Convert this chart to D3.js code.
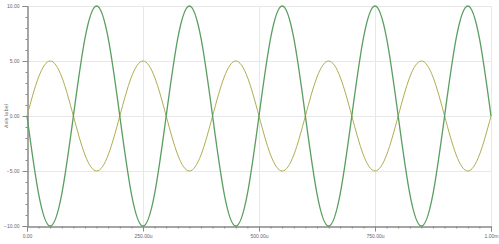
<!DOCTYPE html>
<html>
<head>
<meta charset="utf-8">
<script src="https://cdn.jsdelivr.net/npm/d3@7"></script>
<style>
  body { margin: 0; background: #fff; }
  svg { display: block; font-family: "DejaVu Sans", sans-serif; }
</style>
</head>
<body>
<svg width="499" height="244"></svg>
<script>
// time in microseconds, sampled every 25u
var times = [0,25,50,75,100,125,150,175,200,225,250,275,300,325,350,375,400,425,450,475,500,
  525,550,575,600,625,650,675,700,725,750,775,800,825,850,875,900,925,950,975,1000];

// yellow trace (amplitude 5)
var yellowVals = [0,3.54,5,3.54,0,-3.54,-5,-3.54,0,3.54,5,3.54,0,-3.54,-5,-3.54,0,3.54,5,3.54,0,
  -3.54,-5,-3.54,0,3.54,5,3.54,0,-3.54,-5,-3.54,0,3.54,5,3.54,0,-3.54,-5,-3.54,0];

// green trace (amplitude 10)
var greenVals = [0,-7.07,-10,-7.07,0,7.07,10,7.07,0,-7.07,-10,-7.07,0,7.07,10,7.07,0,-7.07,-10,-7.07,0,
  7.07,10,7.07,0,-7.07,-10,-7.07,0,7.07,10,7.07,0,-7.07,-10,-7.07,0,7.07,10,7.07,0];

var yTicks = [-10, -5, 0, 5, 10];
var xTicks = [0, 250, 500, 750, 1000];
var xTickLabels = ["0.00", "250.00u", "500.00u", "750.00u", "1.00m"];

var svg = d3.select("svg"),
    width = +svg.attr("width"),
    height = +svg.attr("height");

// plot box
var plotL = 27, plotR = 491, plotT = 6, plotB = 226;

var x = d3.scaleLinear().domain([0, 1000]).range([plotL, plotR]);
var y = d3.scaleLinear().domain([-10, 10]).range([plotB, plotT]);

// grid
svg.append("g")
  .selectAll("line")
  .data(yTicks.filter(function(d){ return d != -10; }))
  .enter().append("line")
    .attr("x1", plotL).attr("x2", plotR)
    .attr("y1", function(d){ return y(d) + 0.5; })
    .attr("y2", function(d){ return y(d) + 0.5; })
    .style("stroke", "#e8e8e8")
    .style("stroke-width", 1);

svg.append("g")
  .selectAll("line")
  .data(xTicks.filter(function(d){ return d != 0; }))
  .enter().append("line")
    .attr("x1", function(d){ return x(d) + 0.5; })
    .attr("x2", function(d){ return x(d) + 0.5; })
    .attr("y1", plotT).attr("y2", plotB)
    .style("stroke", "#e8e8e8")
    .style("stroke-width", 1);

// left axis
var yAxis = svg.append("g")
  .attr("transform", "translate(" + (plotL + 0.5) + ",0)")
  .call(d3.axisLeft(y).tickValues(d3.range(-10, 10.01, 1)).tickSize(2).tickFormat(""));
yAxis.append("g")
  .call(d3.axisLeft(y).tickValues(yTicks).tickSize(5).tickFormat(d3.format(".2f")));
yAxis.selectAll("path").style("stroke", "#888");
yAxis.selectAll("line").style("stroke", "#888");
yAxis.selectAll("text").style("font-size", "5px").style("fill", "#666");

// bottom axis
var xAxis = svg.append("g")
  .attr("transform", "translate(0," + (plotB + 0.5) + ")")
  .call(d3.axisBottom(x).tickValues(d3.range(0, 1000.1, 25)).tickSize(2).tickFormat(""));
xAxis.append("g")
  .call(d3.axisBottom(x).tickValues(xTicks).tickSize(5)
    .tickFormat(function(d, i){ return xTickLabels[i]; }));
xAxis.selectAll("path").style("stroke", "#888");
xAxis.selectAll("line").style("stroke", "#888");
xAxis.selectAll("text").style("font-size", "5px").style("fill", "#666");

// axis title
svg.append("text")
  .attr("transform", "translate(8," + y(0) + ") rotate(-90)")
  .attr("text-anchor", "middle")
  .style("font-size", "5px")
  .style("fill", "#666")
  .text("Axis label");

var line = d3.line()
  .x(function(d){ return x(d[0]); })
  .y(function(d){ return y(d[1]); })
  .curve(d3.curveNatural);

svg.append("path")
  .datum(times.map(function(t, i){ return [t, yellowVals[i]]; }))
  .attr("d", line)
  .style("fill", "none")
  .style("stroke", "#b0ad50")
  .style("stroke-width", 1);

svg.append("path")
  .datum(times.map(function(t, i){ return [t, greenVals[i]]; }))
  .attr("d", line)
  .style("fill", "none")
  .style("stroke", "#5a9f60")
  .style("stroke-width", 1.3);
</script>
</body>
</html>
